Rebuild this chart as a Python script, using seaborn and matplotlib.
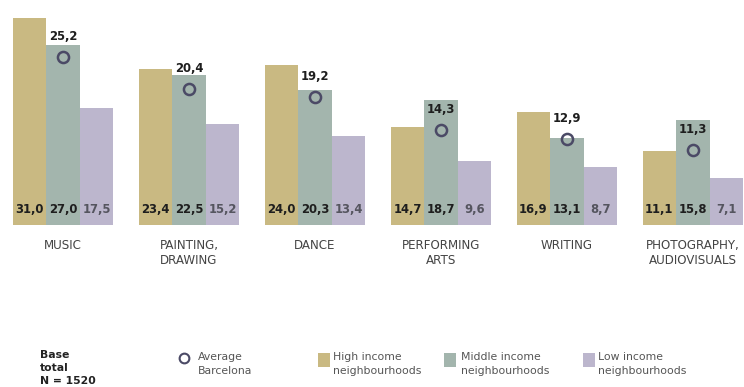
import matplotlib
matplotlib.use("Agg")
import matplotlib.pyplot as plt
from matplotlib.lines import Line2D
from matplotlib.patches import Rectangle
import pandas as pd
import seaborn as sns

categories = ["MUSIC", "PAINTING,\nDRAWING", "DANCE", "PERFORMING\nARTS",
              "WRITING", "PHOTOGRAPHY,\nAUDIOVISUALS"]
high_income = [31.0, 23.4, 24.0, 14.7, 16.9, 11.1]
middle_income = [27.0, 22.5, 20.3, 18.7, 13.1, 15.8]
low_income = [17.5, 15.2, 13.4, 9.6, 8.7, 7.1]
average_bcn = [25.2, 20.4, 19.2, 14.3, 12.9, 11.3]

groups = ["High income\nneighbourhoods", "Middle income\nneighbourhoods",
          "Low income\nneighbourhoods"]
colors = ["#c9b982", "#a3b5ad", "#bcb6cd"]
marker_color = "#4b4a66"

def fmt(v):
    return f"{v:.1f}".replace(".", ",")

rows = []
for g, vals in zip(groups, [high_income, middle_income, low_income]):
    for c, v in zip(categories, vals):
        rows.append({"category": c, "group": g, "value": v})
df = pd.DataFrame(rows)

sns.set_theme(style="white")
plt.rcParams["font.family"] = ["DejaVu Sans"]

W, H = 744, 387
fig = plt.figure(figsize=(W / 100, H / 100), dpi=100)
fig.patch.set_facecolor("white")

def fx(x):
    return x / W

def fy(y):
    return 1 - y / H

baseline_px = 225
ax = fig.add_axes([0, fy(baseline_px), 1, baseline_px / H])

sns.barplot(data=df, x="category", y="value", hue="group", order=categories,
            hue_order=groups, palette=colors, width=0.8, gap=0, linewidth=0,
            saturation=1, legend=False, ax=ax)

ax.set_xlim(-0.5, 5.405)
ax.set_ylim(0, baseline_px / 6.67)
for s in ax.spines.values():
    s.set_visible(False)
ax.set_yticks([])
ax.set_xlabel("")
ax.set_ylabel("")
ax.set_xticks(range(len(categories)))
ax.set_xticklabels(categories, fontsize=8.6, color="#444444", linespacing=1.2)
ax.tick_params(axis="x", length=0, pad=10)

# values printed at the foot of each bar
label_colors = ["#1e1e1e", "#1e1e1e", "#55555f"]
for cont, lc in zip(ax.containers, label_colors):
    for bar in cont:
        ax.text(bar.get_x() + bar.get_width() / 2, 2.25, fmt(bar.get_height()),
                ha="center", va="center", fontsize=8.4, fontweight="bold",
                color=lc)

# city average: hollow ring over the middle bar with its value above
xs = list(range(len(categories)))
ax.plot(xs, average_bcn, linestyle="none", marker="o", markersize=8,
        markerfacecolor="none", markeredgecolor=marker_color,
        markeredgewidth=1.8, clip_on=False)
for x, v in zip(xs, average_bcn):
    ax.text(x, v + 3.0, fmt(v), ha="center", va="center", fontsize=8.4,
            fontweight="bold", color="#1e1e1e")

# legend row along the bottom
fig.text(fx(40), fy(350), "Base\ntotal\nN = 1520", ha="left", va="top",
         fontsize=7.8, fontweight="bold", color="#222222", linespacing=1.35)

fig.add_artist(Line2D([fx(184)], [fy(358)], marker="o", markersize=7,
                      markerfacecolor="none", markeredgecolor=marker_color,
                      markeredgewidth=1.5, transform=fig.transFigure))
fig.text(fx(198), fy(352), "Average\nBarcelona", ha="left", va="top",
         fontsize=7.8, color="#555555", linespacing=1.5)

for sx, tx, g, c in zip([318, 444, 583], [333, 461, 598], groups, colors):
    fig.add_artist(Rectangle((fx(sx), fy(367)), 12 / W, 14 / H,
                             facecolor=c, edgecolor="none",
                             transform=fig.transFigure))
    fig.text(fx(tx), fy(352), g, ha="left", va="top", fontsize=7.8,
             color="#555555", linespacing=1.5)

fig.savefig("out.png", dpi=100, facecolor="white")
